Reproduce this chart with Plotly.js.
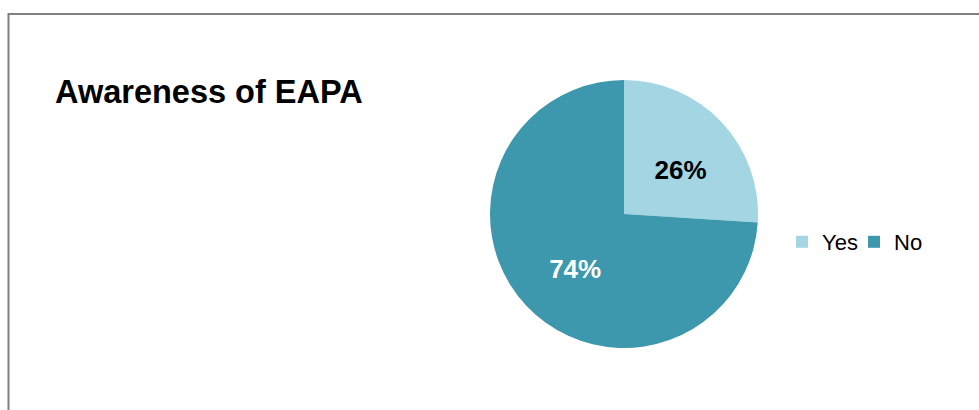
<!DOCTYPE html>
<html>
<head>
<meta charset="utf-8">
<script src="https://cdn.plot.ly/plotly-3.0.1.min.js"></script>
<style>html,body{margin:0;padding:0;background:#fff;}#chart{width:979px;height:410px;}</style>
</head>
<body>
<div id="chart"></div>
<script>
const labels = ["Yes", "No"];
const values = [26, 74];
const sliceColors = ["#A4D5E3", "#3D97AD"];
const textColors = ["#000000", "#FFFFFF"];
const chartTitle = "Awareness of EAPA";

const W = 979, H = 410;
const trace = {
  type: "pie",
  labels: labels,
  values: values,
  sort: false,
  direction: "clockwise",
  rotation: 0,
  marker: {colors: sliceColors, line: {width: 0}},
  textinfo: "percent",
  texttemplate: "\u00A0<br><span style='font-size:26px'>%{percent:.0%}</span>",
  textposition: "inside",
  insidetextorientation: "horizontal",
  textfont: {family: "Liberation Sans, Arial, sans-serif", size: 19, color: textColors, weight: "bold"},
  hoverinfo: "none",
  domain: {x: [490 / W, 758 / W], y: [(H - 348) / H, (H - 80) / H]}
};

const layout = {
  width: W, height: H,
  margin: {l: 0, r: 0, t: 0, b: 0},
  paper_bgcolor: "#ffffff",
  plot_bgcolor: "#ffffff",
  font: {family: "Liberation Sans, Arial, sans-serif", color: "#000"},
  title: {
    text: "<b>" + chartTitle + "</b>",
    font: {size: 32.5, color: "#000", family: "Liberation Sans, Arial, sans-serif"},
    x: 55 / W, xanchor: "left", xref: "container",
    y: 1 - 92 / H, yanchor: "middle", yref: "container"
  },
  showlegend: true,
  legend: {
    orientation: "h",
    x: 782 / W, xanchor: "left",
    y: 1 - 242 / H, yanchor: "middle",
    font: {size: 22, color: "#000"},
    entrywidth: 27,
    bgcolor: "rgba(0,0,0,0)"
  },
  shapes: [{
    type: "rect", xref: "paper", yref: "paper",
    x0: 8.5 / W, x1: 1.2, y0: -0.2, y1: 1 - 14 / H,
    line: {color: "#808080", width: 2}
  }]
};

Plotly.newPlot("chart", [trace], layout, {displayModeBar: false, staticPlot: true});
</script>
</body>
</html>
